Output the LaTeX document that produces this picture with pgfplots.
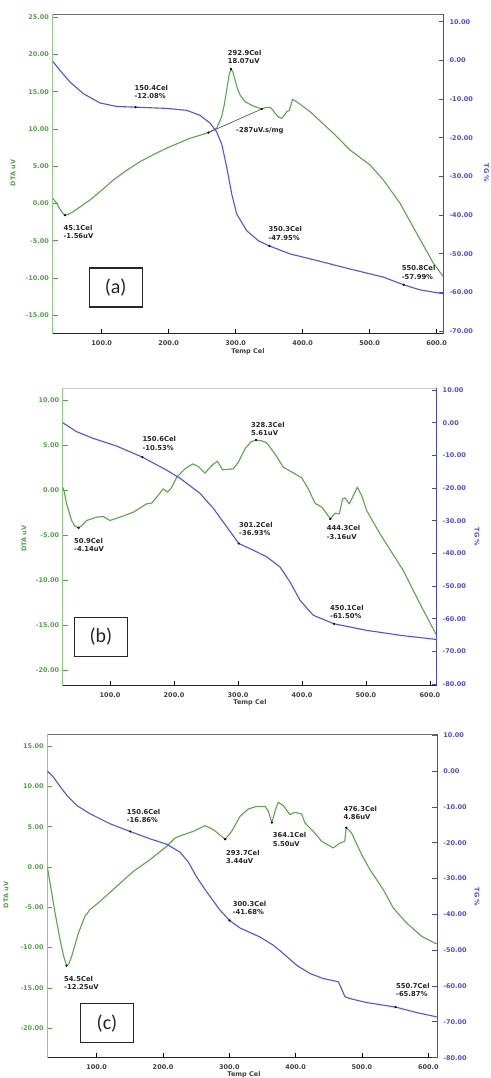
\documentclass[border=0pt]{standalone}
\usepackage{pgfplots}
\pgfplotsset{compat=1.18}
\usepackage{fontspec}
\setmainfont{DejaVu Sans}
\newfontfamily\boxfont{Carlito}

\definecolor{dtacurve}{RGB}{88,168,72}
\definecolor{dtaline}{RGB}{140,205,130}
\definecolor{dtatext}{RGB}{80,165,70}
\definecolor{tgcurve}{RGB}{80,80,245}
\definecolor{tgline}{RGB}{70,70,205}
\definecolor{tgtext}{RGB}{75,75,235}
\definecolor{frametop}{RGB}{110,110,110}
\definecolor{frametoplight}{RGB}{200,200,200}

\pgfplotsset{
  panel/.style={
    scale only axis, clip mode=individual,
    axis line style={draw=none},
    tick align=inside, major tick length=5pt,
    minor tick num=0,
    xtick={100,200,...,600},
  },
  dtaaxis/.style={
    panel, anchor=south west,
    xtick pos=bottom, ytick pos=left,
    x tick style={black, line width=0.6pt},
    y tick style={dtatext, line width=0.8pt},
    x tick label style={font=\fontsize{6.5}{7}\selectfont\bfseries, text=black!75, yshift=-3pt,
      /pgf/number format/.cd, fixed, fixed zerofill, precision=1, assume math mode=true},
    y tick label style={font=\fontsize{6.5}{7}\selectfont\bfseries, text=dtatext,
      /pgf/number format/.cd, fixed, fixed zerofill, precision=2, assume math mode=true},
  },
  tgaxis/.style={
    panel, anchor=south west,
    hide x axis,
    ytick pos=right, yticklabel pos=right,
    y tick style={tgline, line width=0.8pt},
    y tick label style={font=\fontsize{6.5}{7}\selectfont\bfseries, text=tgtext, xshift=2.5pt,
      /pgf/number format/.cd, fixed, fixed zerofill, precision=2, assume math mode=true},
  },
  dtaplot/.style={dtacurve, line width=1.1pt, line join=round, no marks},
  tgplot/.style={tgcurve, line width=1.1pt, line join=round, no marks},
  dots/.style={only marks, mark=*, mark size=0.9pt, black},
}
\tikzset{
  anno/.style={font=\fontsize{6.8}{8.3}\selectfont\bfseries, align=left, inner sep=0pt, text=black!85, anchor=north west},
  axlab/.style={font=\fontsize{6.5}{7}\selectfont\bfseries},
  tagbox/.style={draw=black!85, line width=1.1pt, inner sep=0pt, minimum width=53pt, minimum height=39pt,
    font=\boxfont\fontsize{20}{20}\selectfont, text=black!85},
}

% frame of the DTA axis: #1 is the colour of the top edge
\newcommand{\frameDTA}[1]{%
  \draw[#1, line width=0.8pt] (rel axis cs:0,1) -- (rel axis cs:1,1);
  \draw[black!85, line width=1pt] (rel axis cs:0,0) -- (rel axis cs:1,0);
  \draw[dtaline, line width=1pt] (rel axis cs:0,0) -- (rel axis cs:0,1);
}
\newcommand{\frameTG}{%
  \draw[tgline, line width=1.2pt] (rel axis cs:1,0) -- (rel axis cs:1,1);
}

\begin{document}
\begin{tikzpicture}[x=1pt,y=1pt]
\useasboundingbox (0pt,0pt) rectangle (490pt,1078pt);

% ---------------- (a) ----------------
\begin{axis}[dtaaxis, at={(52.5pt,744pt)}, width=391pt, height=320pt,
  xmin=26.5, xmax=610.2, ymin=-17.5, ymax=25.44, ytick={-15,-10,...,25}]
\frameDTA{frametop}
\addplot[dtaplot] coordinates {
 (26.9,0.71) (32.8,0.04) (38,-0.8) (42,-1.35) (45.1,-1.56) (50,-1.45) (57.7,-1.07) (70,-0.3)
 (82.6,0.49) (100,1.8) (117.4,3.17) (137,4.45) (157.2,5.63) (180,6.7) (202,7.64) (231.8,8.76)
 (259.2,9.52) (271.6,10.1) (279,11.66) (283,13.3) (286.6,15.24) (290,17.2) (292.9,18.07)
 (296,17.6) (299,16.58) (303,15.3) (306.5,14.57) (313.9,13.67) (326.4,13.09) (338.8,12.69)
 (345,12.9) (351.2,12.91) (355,12.6) (358.7,12.1) (364,11.6) (368.7,11.44) (373,11.9)
 (376.1,12.33) (380,12.5) (383,13.4) (385,13.99) (391,13.67) (411,12.33) (445.8,9.43)
 (470.6,7.19) (500.5,5.18) (520.4,3.17) (545.3,0.04) (570.1,-3.98) (595,-8.0) (609.9,-9.79)
};
\addplot[gray!70!black, line width=0.7pt, no marks] coordinates {(259.2,9.52) (338.8,12.69)};
\addplot[dots] coordinates {(45.1,-1.56) (292.9,18.07) (259.2,9.52) (338.8,12.69)};
\node[anno] at (axis cs:288.1,20.6) {292.9Cel\\18.07uV};
\node[anno] at (axis cs:42.8,-2.86) {45.1Cel\\-1.56uV};
\node[anno] at (axis cs:300.5,10.23) {-287uV.s/mg};
\end{axis}
\begin{axis}[tgaxis, at={(52.5pt,744pt)}, width=391pt, height=320pt,
  xmin=26.5, xmax=610.2, ymin=-70.7, ymax=12.0, ytick={-70,-60,...,10}]
\frameTG
\addplot[tgplot] coordinates {
 (26.9,-0.26) (37.8,-2.6) (52.7,-5.6) (72.6,-8.6) (97.5,-11.0) (122.4,-11.9) (150.4,-12.08)
 (197,-12.4) (226.9,-12.9) (246.8,-14.2) (261.7,-16.2) (271.6,-18.5) (279.1,-21.6) (286.6,-27.6)
 (294,-34.5) (301.5,-39.7) (316.4,-44) (333.8,-46.6) (350.3,-47.95) (381,-50) (420.9,-51.7)
 (470.6,-53.9) (520.4,-56) (550.8,-57.99) (575,-59.3) (609.9,-60.3)
};
\addplot[dots] coordinates {(150.4,-12.08) (350.3,-47.95) (550.8,-57.99)};
\node[anno] at (axis cs:148.8,-6.38) {150.4Cel\\-12.08\%};
\node[anno] at (axis cs:348.8,-42.9) {350.3Cel\\-47.95\%};
\node[anno] at (axis cs:547.8,-53.0) {550.8Cel\\-57.99\%};
\end{axis}
\node[axlab, text=dtatext, rotate=90] at (13pt,905pt) {DTA uV};
\node[axlab, text=tgtext, rotate=-90] at (486.5pt,905pt) {TG \%};
\node[axlab, text=black!75] at (248pt,726pt) {Temp Cel};
\node[tagbox] at (115.7pt,790.5pt) {(a)};

% ---------------- (b) ----------------
\begin{axis}[dtaaxis, at={(62.7pt,392pt)}, width=374pt, height=297.7pt,
  xmin=26.1, xmax=610.5, ymin=-21.72, ymax=11.36, ytick={-20,-15,...,10}]
\frameDTA{frametoplight}
\addplot[dtaplot] coordinates {
 (26.1,0.37) (28,0) (32.3,-1.48) (40,-3.33) (45,-3.95) (50.9,-4.14) (56,-3.9) (63.5,-3.33)
 (79.2,-2.96) (89.6,-2.89) (100,-3.33) (115.6,-2.96) (136.5,-2.41) (157.3,-1.48) (165,-1.4)
 (172.9,-0.74) (183.3,0.19) (190,-0.19) (196.4,0.37) (204.2,1.48) (217.2,2.41) (229.2,2.96)
 (238,2.67) (248.4,1.93) (258.9,2.78) (267.7,3.26) (276,2.3) (292.7,2.41) (300.5,3.15)
 (310.9,4.63) (320,5.4) (328.3,5.61) (336,5.55) (344.8,5.3) (357.8,4.07) (370.8,2.59)
 (386.5,1.96) (399.5,1.41) (409.9,0.19) (420.3,-1.41) (430.7,-1.85) (438,-2.5) (444.3,-3.16)
 (451.6,-2.52) (458.3,-2.59) (463.5,-0.93) (467.2,-0.81) (474,-1.48) (480.2,-0.56) (486.5,0.37)
 (493.2,-0.56) (501,-2.22) (521.9,-4.81) (558.3,-8.89) (584.4,-12.59) (610.4,-16.1)
};
\addplot[dots] coordinates {(50.9,-4.14) (328.3,5.61) (444.3,-3.16)};
\node[anno] at (axis cs:320.3,7.59) {328.3Cel\\5.61uV};
\node[anno] at (axis cs:43.75,-5.26) {50.9Cel\\-4.14uV};
\node[anno] at (axis cs:438.5,-3.89) {444.3Cel\\-3.16uV};
\end{axis}
\begin{axis}[tgaxis, at={(62.7pt,392pt)}, width=374pt, height=297.7pt,
  xmin=26.1, xmax=610.5, ymin=-80.52, ymax=10.52, ytick={-80,-70,...,10}]
\frameTG
\addplot[tgplot] coordinates {
 (26.1,0) (47.9,-2.76) (73.9,-4.8) (110.4,-7.14) (150.6,-10.53) (188.5,-14.5) (209.4,-17.0)
 (240.6,-21.6) (261.5,-26.2) (282.3,-31.8) (301.2,-36.93) (324,-39) (344.8,-41) (365.6,-44.1)
 (381.2,-48.7) (396.9,-54.3) (417.7,-58.9) (450.1,-61.5) (501,-63.5) (553,-65) (610.4,-66.3)
};
\addplot[dots] coordinates {(150.6,-10.53) (301.2,-36.93) (450.1,-61.5)};
\node[anno] at (axis cs:150.5,-4.18) {150.6Cel\\-10.53\%};
\node[anno] at (axis cs:301.6,-30.3) {301.2Cel\\-36.93\%};
\node[anno] at (axis cs:443.75,-55.7) {450.1Cel\\-61.50\%};
\end{axis}
\node[axlab, text=dtatext, rotate=90] at (24pt,539.5pt) {DTA uV};
\node[axlab, text=tgtext, rotate=-90] at (477pt,541pt) {TG \%};
\node[axlab, text=black!75] at (250pt,375.3pt) {Temp Cel};
\node[tagbox] at (101pt,441pt) {(b)};

% ---------------- (c) ----------------
\begin{axis}[dtaaxis, at={(47.3pt,20.3pt)}, width=390pt, height=323.7pt,
  xmin=25.5, xmax=613.6, ymin=-23.65, ymax=16.49, ytick={-20,-15,...,15}]
\frameDTA{frametop}
\addplot[dtaplot] coordinates {
 (25.6,0) (29.6,-1.98) (37.2,-5.7) (44.7,-9.0) (50,-11) (54.5,-12.25) (58,-12.0) (62.3,-11.07)
 (72.4,-8.18) (82.4,-6.1) (89.9,-5.29) (105,-4.26) (130.2,-2.4) (155.3,-0.54) (180.4,0.91)
 (205.5,2.56) (218.1,3.6) (230.7,4.0) (245.7,4.42) (263.3,5.12) (275.9,4.63) (288.4,3.8)
 (293.7,3.44) (303.5,4.42) (316.1,6.28) (328.6,7.19) (341.2,7.52) (353.8,7.52) (358.8,6.9)
 (364.1,5.5) (370.4,7.31) (373.9,8.02) (381.4,7.6) (391.5,6.49) (399,6.78) (409,6.57)
 (414.1,5.45) (426.6,4.42) (439.2,3.18) (456.8,2.36) (466.8,2.98) (474,3.18) (476.3,4.86)
 (479,4.7) (484.4,4.21) (499.5,1.53) (512.1,-0.33) (532.2,-2.81) (547.2,-5.08) (567.3,-6.94)
 (590,-8.6) (612.6,-9.55)
};
\addplot[dots] coordinates {(54.5,-12.25) (293.7,3.44) (364.1,5.5) (476.3,4.86)};
\node[anno] at (axis cs:295,2.15) {293.7Cel\\3.44uV};
\node[anno] at (axis cs:365.3,4.26) {364.1Cel\\5.50uV};
\node[anno] at (axis cs:471.9,7.56) {476.3Cel\\4.86uV};
\node[anno] at (axis cs:50.75,-13.55) {54.5Cel\\-12.25uV};
\end{axis}
\begin{axis}[tgaxis, at={(47.3pt,20.3pt)}, width=390pt, height=323.7pt,
  xmin=25.5, xmax=613.6, ymin=-80, ymax=10.36, ytick={-80,-70,...,10}]
\frameTG
\addplot[tgplot] coordinates {
 (25.6,0) (34.7,-1.67) (47.2,-4.93) (57.3,-7.25) (69.8,-9.57) (89.9,-11.9) (120.1,-14.7)
 (150.6,-16.86) (180.4,-18.9) (205.5,-20.4) (225.6,-22.6) (238.2,-25.4) (250.8,-29.6)
 (265.8,-33.7) (285.9,-38.8) (300.3,-41.68) (316.1,-43.8) (346.2,-46.3) (366.3,-48.6)
 (381.4,-50.9) (401.5,-54.2) (421.6,-56.5) (441.7,-57.9) (464.3,-58.8) (467.8,-60.2)
 (474.4,-63) (481.9,-63.5) (507,-64.6) (550.7,-65.87) (582.4,-67.4) (612.6,-68.6)
};
\addplot[dots] coordinates {(150.6,-16.86) (300.3,-41.68) (550.7,-65.87)};
\node[anno] at (axis cs:145.2,-10.5) {150.6Cel\\-16.86\%};
\node[anno] at (axis cs:305,-36.25) {300.3Cel\\-41.68\%};
\node[anno] at (axis cs:551.3,-59.2) {550.7Cel\\-65.87\%};
\end{axis}
\node[axlab, text=dtatext, rotate=90] at (6pt,183pt) {DTA uV};
\node[axlab, text=tgtext, rotate=-90] at (477pt,181pt) {TG \%};
\node[axlab, text=black!75] at (244pt,3pt) {Temp Cel};
\node[tagbox] at (107pt,54.7pt) {(c)};
\end{tikzpicture}
\end{document}
